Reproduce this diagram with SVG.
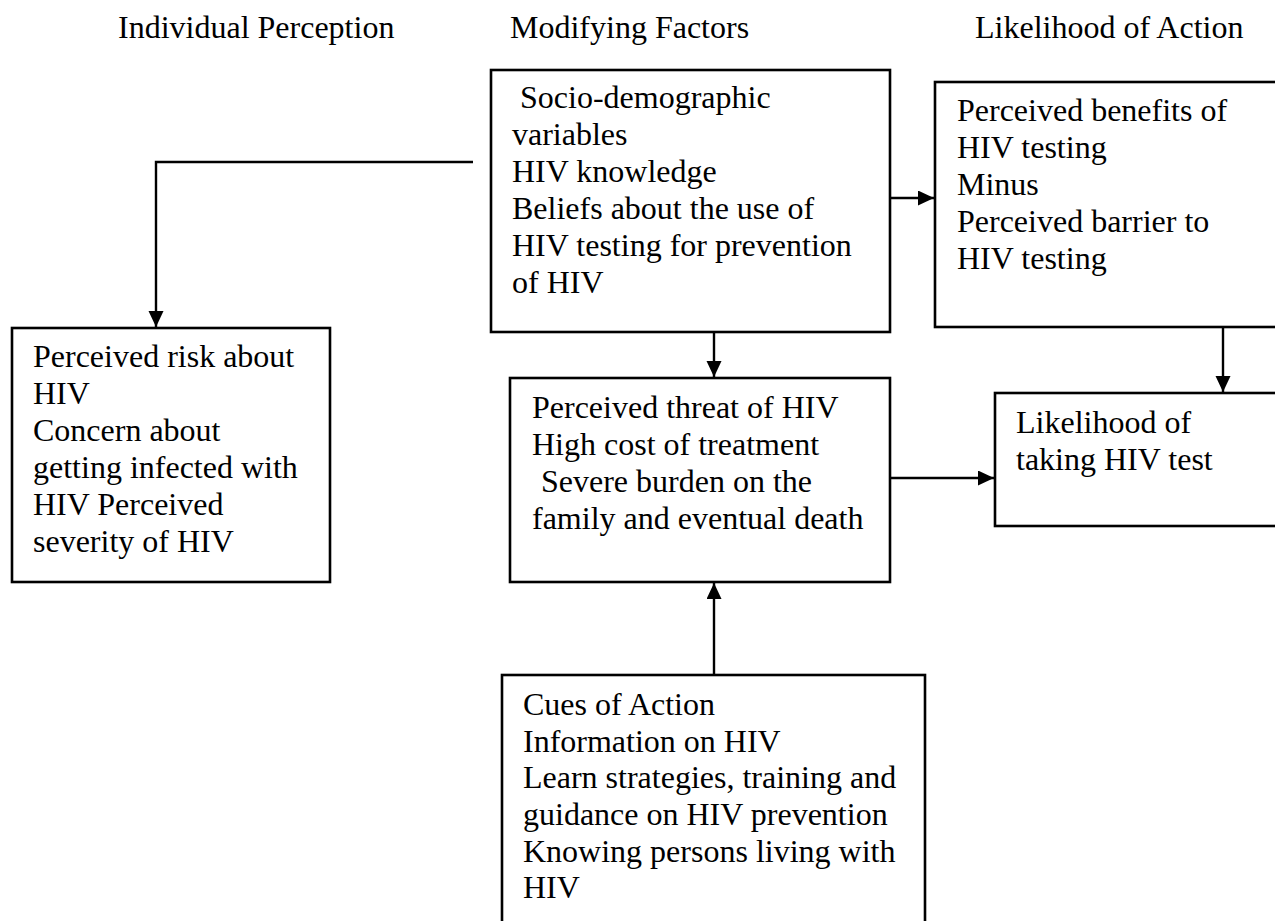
<svg xmlns="http://www.w3.org/2000/svg" width="1275" height="921" viewBox="0 0 1275 921">
<style>
text{font-family:"Liberation Serif","Times New Roman",serif;font-size:32px;fill:#000}
.box{fill:#fff;stroke:#000;stroke-width:2.6}
.con{fill:none;stroke:#000;stroke-width:2.4}
</style>
<defs>
<marker id="ah" markerUnits="userSpaceOnUse" markerWidth="17" markerHeight="16" refX="16" refY="7.5" orient="auto">
<path d="M0,0 L16,7.5 L0,15 z" fill="#000"/>
</marker>
</defs>
<rect width="1275" height="921" fill="#fff"/>
<g id="headers">
<text x="118" y="38">Individual Perception</text>
<text x="510" y="38">Modifying Factors</text>
<text x="975" y="38">Likelihood of Action</text>
</g>
<g id="connectors">
<path class="con" d="M473,162 H156 V327" marker-end="url(#ah)"/>
<path class="con" d="M890,198 H934" marker-end="url(#ah)"/>
<path class="con" d="M714,332 V377" marker-end="url(#ah)"/>
<path class="con" d="M1223,327 V392" marker-end="url(#ah)"/>
<path class="con" d="M890,478 H994" marker-end="url(#ah)"/>
<path class="con" d="M714,675 V583" marker-end="url(#ah)"/>
</g>
<g id="modifying">
<rect class="box" x="491" y="70" width="399" height="262"/>
<text x="520" y="108">Socio-demographic</text>
<text x="512" y="145">variables</text>
<text x="512" y="182">HIV knowledge</text>
<text x="512" y="219">Beliefs about the use of</text>
<text x="512" y="256">HIV testing for prevention</text>
<text x="512" y="293">of HIV</text>
</g>
<g id="benefits">
<rect class="box" x="935" y="82" width="360" height="245"/>
<text x="957" y="121">Perceived benefits of</text>
<text x="957" y="158">HIV testing</text>
<text x="957" y="195">Minus</text>
<text x="957" y="232">Perceived barrier to</text>
<text x="957" y="269">HIV testing</text>
</g>
<g id="risk">
<rect class="box" x="12" y="328" width="318" height="254"/>
<text x="33" y="367">Perceived risk about</text>
<text x="33" y="404">HIV</text>
<text x="33" y="441">Concern about</text>
<text x="33" y="478">getting infected with</text>
<text x="33" y="515">HIV Perceived</text>
<text x="33" y="552">severity of HIV</text>
</g>
<g id="threat">
<rect class="box" x="510" y="378" width="380" height="204"/>
<text x="532" y="418">Perceived threat of HIV</text>
<text x="532" y="455">High cost of treatment</text>
<text x="541" y="492">Severe burden on the</text>
<text x="532" y="529">family and eventual death</text>
</g>
<g id="likelihood">
<rect class="box" x="995" y="393" width="300" height="133"/>
<text x="1016" y="433">Likelihood of</text>
<text x="1016" y="470">taking HIV test</text>
</g>
<g id="cues">
<rect class="box" x="502" y="675" width="423" height="300"/>
<text x="523" y="715">Cues of Action</text>
<text x="523" y="752">Information on HIV</text>
<text x="523" y="788">Learn strategies, training and</text>
<text x="523" y="825">guidance on HIV prevention</text>
<text x="523" y="862">Knowing persons living with</text>
<text x="523" y="898">HIV</text>
</g>
</svg>
